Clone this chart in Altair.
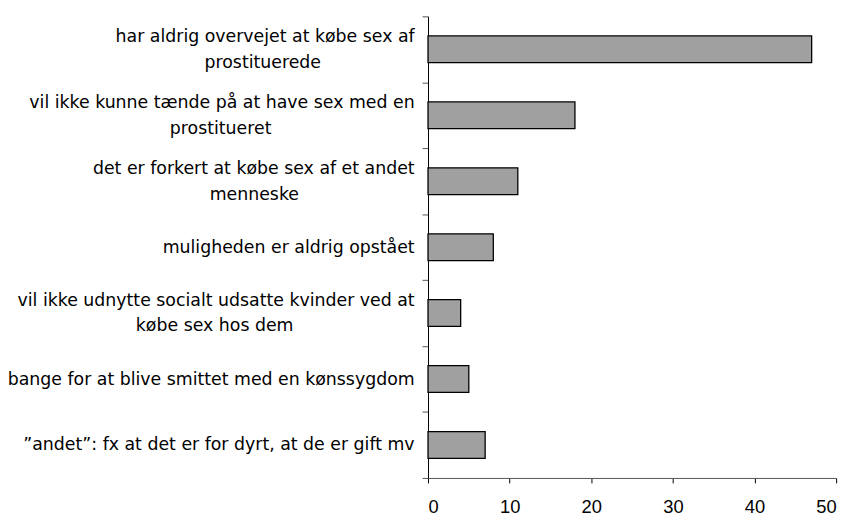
import altair as alt
import pandas as pd

# ---- data ----
line1 = [
    "har aldrig overvejet at købe sex af",
    "vil ikke kunne tænde på at have sex med en",
    "det er forkert at købe sex af et andet",
    "muligheden er aldrig opstået",
    "vil ikke udnytte socialt udsatte kvinder ved at",
    "bange for at blive smittet med en kønssygdom",
    "”andet”: fx at det er for dyrt, at de er gift mv",
]
line2 = [
    "prostituerede",
    "prostitueret",
    "menneske",
    "",
    "købe sex hos dem",
    "",
    "",
]
values = [47, 18, 11, 8, 4, 5, 7]

# approximate DejaVu Sans advance widths (em) to centre the second line under the first
W = {" ": .318, "a": .613, "b": .635, "c": .550, "d": .635, "e": .615, "f": .352,
     "g": .635, "h": .634, "i": .278, "j": .278, "k": .579, "l": .278, "m": .974,
     "n": .634, "o": .612, "p": .635, "r": .411, "s": .521, "t": .392, "u": .634,
     "v": .592, "x": .592, "y": .592, "æ": .995, "ø": .612, "å": .613}


def tw(s):
    return sum(W.get(ch, .6) for ch in s)


labels = []
for a, b in zip(line1, line2):
    if b:
        pad = round((tw(a) - tw(b)) / 2 / W[" "])
        labels.append(a + "|" + b + "\u00a0" * max(pad, 0) + "\u200b")
    else:
        labels.append(a)

df = pd.DataFrame({"label": labels, "value": values})

# two-line labels -> [line1, <zero-width spacer>, line2]; one-line labels -> ['', text]
# (half-height line spacing + a constant label offset keeps every block centred on its bar)
label_expr = (
    "indexof(datum.label, '|') >= 0 ? "
    "[split(datum.label, '|')[0], '\u200b', split(datum.label, '|')[1]] : "
    "['', datum.label]"
)

chart = (
    alt.Chart(df)
    .mark_bar(fill="#a0a0a0", stroke="#000000", strokeWidth=1.3, size=27)
    .encode(
        y=alt.Y(
            "label:N",
            sort=labels,
            scale=alt.Scale(paddingInner=0, paddingOuter=0),
            axis=alt.Axis(
                title=None,
                labelExpr=label_expr,
                labelFont="DejaVu Sans",
                labelFontSize=17.5,
                labelColor="#000000",
                labelLineHeight=13,
                labelOffset=-13,
                labelPadding=8,
                labelLimit=600,
                tickBand="extent",
                tickSize=6,
                tickColor="#555555",
                domainColor="#000000",
                grid=False,
            ),
        ),
        x=alt.X(
            "value:Q",
            scale=alt.Scale(domain=[0, 50], nice=False),
            axis=alt.Axis(
                title=None,
                values=[0, 10, 20, 30, 40, 50],
                labelFont="Liberation Sans",
                labelFontSize=18.5,
                labelColor="#000000",
                labelPadding=15,
                tickSize=5,
                tickColor="#000000",
                domainColor="#555555",
                grid=False,
            ),
        ),
    )
    .properties(
        width=412,
        height=466,
        autosize=alt.AutoSizeParams(type="none"),
        padding={"left": 424, "top": 6, "right": 14, "bottom": 38},
    )
    .configure_view(stroke=None)
)

chart.save("out.html", embed_options={"renderer": "svg", "actions": False})
